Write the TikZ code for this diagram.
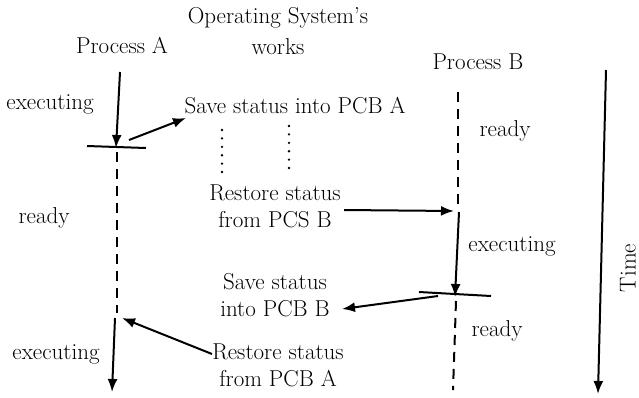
\documentclass[tikz,border=0pt]{standalone}
\usetikzlibrary{arrows.meta}
\begin{document}
\begin{tikzpicture}[x=1pt,y=-1pt,
  lbl/.style={font=\fontsize{23}{27}\selectfont, inner sep=0pt, align=center},
  arr/.style={line width=2pt, -{Latex[length=13pt,width=10pt]}},
  bar/.style={line width=2pt},
  dsh/.style={line width=2pt, dash pattern=on 10pt off 7pt},
  dot/.style={line width=2.6pt, dash pattern=on 0pt off 8.4pt, line cap=round}]
\useasboundingbox (0,0) rectangle (639,397);
% titles
\node[lbl] (os) at (278,31) {Operating System's\\[4pt]works};
\node[lbl] (pa) at (122,45) {Process A};
\node[lbl] (pb) at (478,62) {Process B};
% labels left
\node[lbl] (ea) at (50,104) {executing};
\node[lbl] (ra) at (44,218) {ready};
\node[lbl] (eb) at (56,354) {executing};
% labels right
\node[lbl] (rb1) at (505,131) {ready};
\node[lbl] (exb) at (512,246) {executing};
\node[lbl] (rb2) at (497,331) {ready};
% OS actions
\node[lbl] (sa) at (295,106) {Save status into PCB A};
\node[lbl] (rsb) at (275,206) {Restore status\\from PCS B};
\node[lbl] (ssb) at (275,295) {Save status\\into PCB B};
\node[lbl] (rsa) at (278,365) {Restore status\\from PCB A};
\node[lbl, rotate=90] (time) at (628,268) {Time};
% process A timeline
\coordinate (a0) at (120,72);
\coordinate (a1) at (116,148);
\coordinate (a2) at (117,313);
\coordinate (a3) at (115,318);
\coordinate (a4) at (112,392);
\coordinate (abl) at (87,146);
\coordinate (abr) at (146,148);
\draw[arr] (a0) -- (a1);
\draw[bar] (abl) -- (abr);
\draw[dsh] (117,152) -- (a2);
\draw[arr] (a3) -- (a4);
% process B timeline
\coordinate (b0) at (458,92);
\coordinate (b1) at (458,208);
\coordinate (b2) at (459,212);
\coordinate (b3) at (455,297);
\coordinate (bbl) at (419,292);
\coordinate (bbr) at (491,296);
\coordinate (b4) at (453,390);
\draw[dsh] (b0) -- (b1);
\draw[arr] (b2) -- (b3);
\draw[bar] (bbl) -- (bbr);
\draw[dsh] (456,301) -- (b4);
% dotted
\draw[dot] (222,130) -- (222,172);
\draw[dot] (289,126) -- (289,172);
% OS arrows
\coordinate (s1) at (129,140);
\coordinate (s1e) at (186,118);
\draw[arr] (s1) -- (s1e);
\coordinate (r1) at (454,211);
\draw[arr] (344,210) -- (r1);
\coordinate (s2) at (438,296);
\draw[arr] (s2) -- (342,309);
\coordinate (r2) at (122,318);
\draw[arr] (212,354) -- (r2);
% time
\coordinate (t0) at (606,70);
\coordinate (t1) at (598,394);
\draw[arr] (t0) -- (t1);
\end{tikzpicture}
\end{document}
